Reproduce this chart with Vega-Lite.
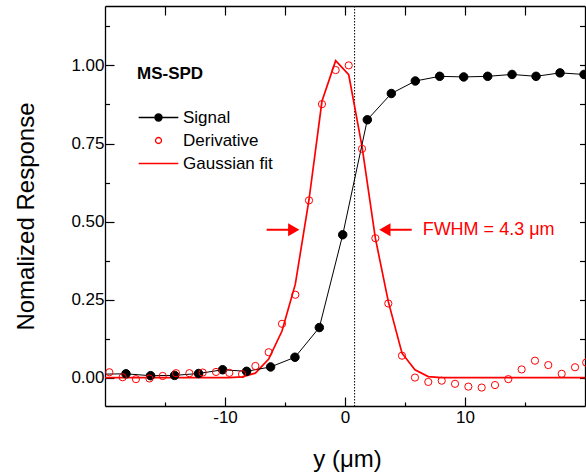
{
  "$schema": "https://vega.github.io/schema/vega-lite/v6.json",
  "width": 480,
  "height": 400,
  "autosize": {"type": "none"},
  "padding": {"left": 105, "top": 6, "right": 1, "bottom": 69},
  "config": {
    "view": {"stroke": null},
    "font": "Liberation Sans",
    "axis": {"grid": false, "domainColor": "black", "domainWidth": 1.3, "tickColor": "black", "tickWidth": 1.2, "labelFont": "Liberation Sans", "titleFont": "Liberation Sans", "labelColor": "black", "titleColor": "black", "labelOverlap": false, "labelFlush": false, "labelBound": false, "titleFontWeight": "normal"}
  },
  "datasets": {
    "pts": [
      {"series": "Signal", "y_um": -20.25, "resp": 0.012},
      {"series": "Signal", "y_um": -18.25, "resp": 0.013},
      {"series": "Signal", "y_um": -16.2, "resp": 0.007},
      {"series": "Signal", "y_um": -14.2, "resp": 0.008},
      {"series": "Signal", "y_um": -12.2, "resp": 0.014},
      {"series": "Signal", "y_um": -10.2, "resp": 0.026},
      {"series": "Signal", "y_um": -8.2, "resp": 0.021},
      {"series": "Signal", "y_um": -6.2, "resp": 0.035},
      {"series": "Signal", "y_um": -4.17, "resp": 0.066},
      {"series": "Signal", "y_um": -2.14, "resp": 0.161},
      {"series": "Signal", "y_um": -0.19, "resp": 0.458},
      {"series": "Signal", "y_um": 1.86, "resp": 0.826},
      {"series": "Signal", "y_um": 3.86, "resp": 0.91},
      {"series": "Signal", "y_um": 5.86, "resp": 0.95},
      {"series": "Signal", "y_um": 7.89, "resp": 0.965},
      {"series": "Signal", "y_um": 9.89, "resp": 0.963},
      {"series": "Signal", "y_um": 11.89, "resp": 0.965},
      {"series": "Signal", "y_um": 13.92, "resp": 0.971},
      {"series": "Signal", "y_um": 15.92, "resp": 0.965},
      {"series": "Signal", "y_um": 17.92, "resp": 0.976},
      {"series": "Signal", "y_um": 19.92, "resp": 0.971},
      {"series": "Derivative", "y_um": -19.64, "resp": 0.018},
      {"series": "Derivative", "y_um": -18.53, "resp": 0.002},
      {"series": "Derivative", "y_um": -17.42, "resp": -0.004},
      {"series": "Derivative", "y_um": -16.3, "resp": -0.002},
      {"series": "Derivative", "y_um": -15.19, "resp": 0.006},
      {"series": "Derivative", "y_um": -14.08, "resp": 0.015},
      {"series": "Derivative", "y_um": -12.97, "resp": 0.015},
      {"series": "Derivative", "y_um": -11.86, "resp": 0.017},
      {"series": "Derivative", "y_um": -10.75, "resp": 0.019},
      {"series": "Derivative", "y_um": -9.64, "resp": 0.016},
      {"series": "Derivative", "y_um": -8.58, "resp": 0.012},
      {"series": "Derivative", "y_um": -7.47, "resp": 0.038},
      {"series": "Derivative", "y_um": -6.36, "resp": 0.082},
      {"series": "Derivative", "y_um": -5.25, "resp": 0.173},
      {"series": "Derivative", "y_um": -4.14, "resp": 0.266},
      {"series": "Derivative", "y_um": -3.0, "resp": 0.568},
      {"series": "Derivative", "y_um": -1.92, "resp": 0.876},
      {"series": "Derivative", "y_um": -0.78, "resp": 0.985},
      {"series": "Derivative", "y_um": 0.31, "resp": 1.0},
      {"series": "Derivative", "y_um": 1.42, "resp": 0.733},
      {"series": "Derivative", "y_um": 2.53, "resp": 0.447},
      {"series": "Derivative", "y_um": 3.61, "resp": 0.238},
      {"series": "Derivative", "y_um": 4.75, "resp": 0.071},
      {"series": "Derivative", "y_um": 5.83, "resp": 0.001},
      {"series": "Derivative", "y_um": 6.94, "resp": -0.013},
      {"series": "Derivative", "y_um": 8.06, "resp": -0.009},
      {"series": "Derivative", "y_um": 9.17, "resp": -0.019},
      {"series": "Derivative", "y_um": 10.28, "resp": -0.028},
      {"series": "Derivative", "y_um": 11.39, "resp": -0.031},
      {"series": "Derivative", "y_um": 12.5, "resp": -0.023},
      {"series": "Derivative", "y_um": 13.61, "resp": -0.004},
      {"series": "Derivative", "y_um": 14.72, "resp": 0.027},
      {"series": "Derivative", "y_um": 15.83, "resp": 0.055},
      {"series": "Derivative", "y_um": 16.94, "resp": 0.041},
      {"series": "Derivative", "y_um": 18.06, "resp": 0.013},
      {"series": "Derivative", "y_um": 19.17, "resp": 0.034},
      {"series": "Derivative", "y_um": 20.1, "resp": 0.049},
      {"series": "Gaussian fit", "y_um": -20.0, "resp": 0.001},
      {"series": "Gaussian fit", "y_um": -9.64, "resp": 0.001},
      {"series": "Gaussian fit", "y_um": -8.58, "resp": 0.003},
      {"series": "Gaussian fit", "y_um": -7.47, "resp": 0.015},
      {"series": "Gaussian fit", "y_um": -6.36, "resp": 0.06},
      {"series": "Gaussian fit", "y_um": -5.25, "resp": 0.15},
      {"series": "Gaussian fit", "y_um": -4.14, "resp": 0.3},
      {"series": "Gaussian fit", "y_um": -3.0, "resp": 0.57},
      {"series": "Gaussian fit", "y_um": -1.92, "resp": 0.885},
      {"series": "Gaussian fit", "y_um": -0.78, "resp": 1.015},
      {"series": "Gaussian fit", "y_um": 0.31, "resp": 0.97},
      {"series": "Gaussian fit", "y_um": 1.42, "resp": 0.74},
      {"series": "Gaussian fit", "y_um": 2.53, "resp": 0.447},
      {"series": "Gaussian fit", "y_um": 3.61, "resp": 0.244},
      {"series": "Gaussian fit", "y_um": 4.75, "resp": 0.079},
      {"series": "Gaussian fit", "y_um": 5.83, "resp": 0.026},
      {"series": "Gaussian fit", "y_um": 6.94, "resp": 0.004},
      {"series": "Gaussian fit", "y_um": 8.06, "resp": 0.001},
      {"series": "Gaussian fit", "y_um": 20.0, "resp": 0.001}
    ],
    "legend": [{"series": "Signal"}, {"series": "Derivative"}, {"series": "Gaussian fit"}],
    "ref": [{"y_um": 0.8}],
    "arrows": [
      {"dir": "right", "tail": -6.53, "head": -4.27, "resp": 0.474},
      {"dir": "left", "tail": 5.56, "head": 3.32, "resp": 0.474}
    ],
    "label": [{"y_um": 6.47, "resp": 0.474, "text": "FWHM = 4.3 μm"}]
  },
  "resolve": {"axis": {"x": "independent", "y": "independent"}},
  "layer": [
    {
      "data": {"name": "ref"},
      "mark": {"type": "rule", "color": "black", "strokeWidth": 1, "strokeDash": [1.5, 1.5]},
      "encoding": {
        "x": {"field": "y_um", "type": "quantitative", "scale": {"domain": [-20, 20], "nice": false, "zero": false}, "axis": null}
      }
    },
    {
      "data": {"name": "pts"},
      "transform": [{"filter": "datum.series === 'Gaussian fit'"}],
      "mark": {"type": "line", "color": "#ff0000", "strokeWidth": 1.7, "clip": true},
      "encoding": {
        "x": {"field": "y_um", "type": "quantitative", "scale": {"domain": [-20, 20], "nice": false, "zero": false},
          "axis": {"orient": "bottom", "values": [-15, -10, -5, 0, 5, 10, 15], "labelExpr": "datum.value % 10 === 0 ? '' + datum.value : ''",
            "tickSize": {"condition": {"test": "datum.value % 10 === 0", "value": -9}, "value": -4},
            "labelFontSize": 17, "labelPadding": 12, "title": "y (μm)", "titleFontSize": 24, "titleX": 242, "titleY": 60, "titleBaseline": "alphabetic"}},
        "y": {"field": "resp", "type": "quantitative", "scale": {"domain": [-0.09, 1.19], "nice": false, "zero": false},
          "axis": {"orient": "left", "values": [0, 0.125, 0.25, 0.375, 0.5, 0.625, 0.75, 0.875, 1, 1.125], "labelExpr": "datum.value % 0.25 === 0 ? format(datum.value, '.2f') : ''",
            "tickSize": {"condition": {"test": "datum.value % 0.25 === 0", "value": -9}, "value": -4.5},
            "labelFontSize": 17, "labelPadding": 10, "title": "Nomalized Response", "titleFontSize": 24, "titleX": -72, "titleY": 210, "titleBaseline": "alphabetic"}}
      }
    },
    {
      "data": {"name": "pts"},
      "transform": [{"filter": "datum.series === 'Signal'"}],
      "mark": {"type": "line", "color": "black", "strokeWidth": 1, "clip": true},
      "encoding": {
        "x": {"field": "y_um", "type": "quantitative", "scale": {"domain": [-20, 20], "nice": false, "zero": false},
          "axis": {"orient": "top", "values": [-15, -10, -5, 0, 5, 10, 15], "labels": false, "tickSize": -9, "title": null}},
        "y": {"field": "resp", "type": "quantitative", "scale": {"domain": [-0.09, 1.19], "nice": false, "zero": false},
          "axis": {"orient": "right", "values": [0, 0.125, 0.25, 0.375, 0.5, 0.625, 0.75, 0.875, 1, 1.125], "labels": false, "tickSize": -5.5, "title": null}}
      }
    },
    {
      "data": {"name": "pts"},
      "transform": [{"filter": "datum.series !== 'Gaussian fit' && datum.y_um > -20"}],
      "mark": {"type": "point", "filled": false, "strokeWidth": 1, "opacity": 1},
      "encoding": {
        "x": {"field": "y_um", "type": "quantitative", "scale": {"domain": [-20, 20], "nice": false, "zero": false}, "axis": null},
        "y": {"field": "resp", "type": "quantitative", "scale": {"domain": [-0.09, 1.19], "nice": false, "zero": false}, "axis": null},
        "size": {"condition": {"test": "datum.series === 'Signal'", "value": 72}, "value": 52},
        "fill": {"condition": {"test": "datum.series === 'Signal'", "value": "black"}, "value": "transparent"},
        "stroke": {"condition": {"test": "datum.series === 'Signal'", "value": "black"}, "value": "#ff0000"}
      }
    },
    {
      "data": {"name": "legend"},
      "mark": {"type": "point", "opacity": 0, "size": 196, "strokeWidth": 1.3},
      "encoding": {
        "shape": {"field": "series", "type": "nominal", "title": "MS-SPD",
          "scale": {"domain": ["Signal", "Derivative", "Gaussian fit"], "range": ["M-2.83,0L2.83,0M0.51,0A0.51,0.51,0,1,1,-0.51,0A0.51,0.51,0,1,1,0.51,0Z", "M0.43,0A0.43,0.43,0,1,1,-0.43,0A0.43,0.43,0,1,1,0.43,0Z", "M-2.83,0L2.83,0"]},
          "legend": {"orient": "none", "legendX": 32, "legendY": 60, "padding": 0, "titleFont": "Liberation Sans", "titleFontSize": 17, "titleFontWeight": "bold", "titleColor": "black", "titlePadding": 26,
            "labelFont": "Liberation Sans", "labelFontSize": 17, "labelColor": "black", "labelOffset": 16, "symbolSize": 196, "symbolOffset": 13, "rowPadding": 5, "symbolStrokeWidth": 1.3, "symbolOpacity": 1}},
        "fill": {"field": "series", "type": "nominal", "title": "MS-SPD",
          "scale": {"domain": ["Signal", "Derivative", "Gaussian fit"], "range": ["black", "transparent", "rgba(255,255,255,0)"]}},
        "stroke": {"field": "series", "type": "nominal", "title": "MS-SPD",
          "scale": {"domain": ["Signal", "Derivative", "Gaussian fit"], "range": ["black", "#ff0000", "#fe0000"]}}
      }
    },
    {
      "data": {"name": "arrows"},
      "mark": {"type": "rule", "color": "#ff0000", "strokeWidth": 2},
      "encoding": {
        "x": {"field": "tail", "type": "quantitative", "scale": {"domain": [-20, 20], "nice": false, "zero": false}, "axis": null},
        "x2": {"field": "head"},
        "y": {"field": "resp", "type": "quantitative", "scale": {"domain": [-0.09, 1.19], "nice": false, "zero": false}, "axis": null}
      }
    },
    {
      "data": {"name": "arrows"},
      "mark": {"type": "point", "filled": true, "color": "#ff0000", "opacity": 1, "size": 169},
      "encoding": {
        "x": {"field": "head", "type": "quantitative", "scale": {"domain": [-20, 20], "nice": false, "zero": false}, "axis": null},
        "y": {"field": "resp", "type": "quantitative", "scale": {"domain": [-0.09, 1.19], "nice": false, "zero": false}, "axis": null},
        "shape": {"value": {"expr": "datum.dir === 'right' ? 'triangle-right' : 'triangle-left'"}}
      }
    },
    {
      "data": {"name": "label"},
      "mark": {"type": "text", "color": "#ff0000", "font": "Liberation Sans", "fontSize": 18, "align": "left", "baseline": "middle"},
      "encoding": {
        "x": {"field": "y_um", "type": "quantitative", "scale": {"domain": [-20, 20], "nice": false, "zero": false}, "axis": null},
        "y": {"field": "resp", "type": "quantitative", "scale": {"domain": [-0.09, 1.19], "nice": false, "zero": false}, "axis": null},
        "text": {"field": "text"}
      }
    }
  ]
}
